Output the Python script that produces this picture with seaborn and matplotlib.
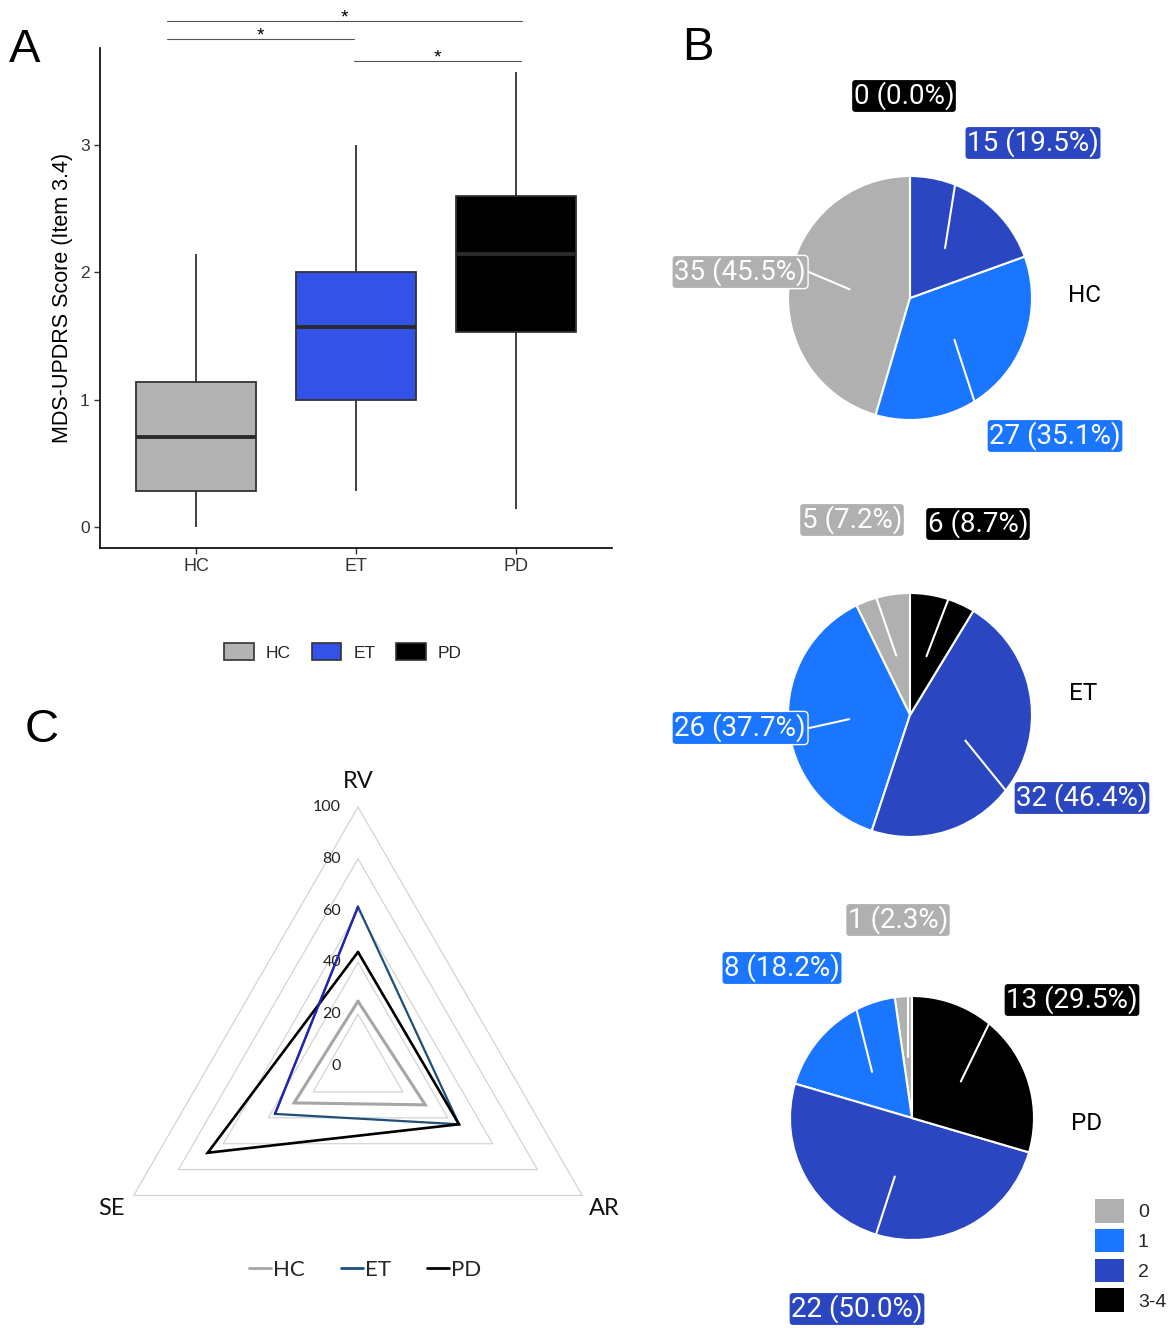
import numpy as np
import pandas as pd
import matplotlib.pyplot as plt
import seaborn as sns
from matplotlib.patches import Patch
from matplotlib.lines import Line2D

# panel A - five-number summaries (min, q1, median, q3, max)
groups = ['HC', 'ET', 'PD']
hc_score = [0.0, 0.28, 0.71, 1.14, 2.14]
et_score = [0.28, 1.0, 1.57, 2.0, 3.0]
pd_score = [0.14, 1.53, 2.14, 2.6, 3.57]
box_colors = ['#b3b3b3', '#3352e8', '#000000']

# panel B - patients per item 3.4 score
score_cats = ['0', '1', '2', '3-4']
hc_counts = [35, 27, 15, 0]
et_counts = [5, 26, 32, 6]
pd_counts = [1, 8, 22, 13]
pie_colors = ['#b0b0b0', '#1a75ff', '#2a46c0', '#000000']

# panel C - radar values
radar_axes = ['RV', 'AR', 'SE']
hc_radar = [25, 30, 28.5]
et_radar = [61.5, 45, 37]
pd_radar = [44, 45, 67]
radar_ticks = [0, 20, 40, 60, 80, 100]
radar_colors = ['#a6a6a6', '#1f4e79', '#000000']

sns.set_theme(style='ticks')
plt.rcParams['font.family'] = ['Liberation Sans', 'DejaVu Sans']

W, H = 1173, 1328
fig = plt.figure(figsize=(W / 100, H / 100), dpi=100)


def box(x, y, w, h):
    # pixel box (top-left origin) -> figure fraction
    return [x / W, 1 - (y + h) / H, w / W, h / H]


# ---------------- A: boxplot ----------------
axA = fig.add_axes(box(100, 48, 512, 500))
df = pd.DataFrame({'group': np.repeat(groups, len(hc_score)),
                   'score': hc_score + et_score + pd_score})
sns.boxplot(data=df, x='group', y='score', hue='group', palette=box_colors,
            saturation=1, width=0.75, whis=(0, 100), showcaps=False, linewidth=1.3,
            linecolor='#333333', legend=False, ax=axA,
            medianprops={'color': '#2b2b2b', 'linewidth': 2.8})
axA.set_xlim(-0.6, 2.6)
axA.set_ylim(-0.165, 3.76)
axA.set_yticks([0, 1, 2, 3])
axA.set_xlabel('')
axA.set_ylabel('MDS-UPDRS Score (Item 3.4)', fontsize=15.5, color='black', labelpad=5)
axA.tick_params(axis='x', labelsize=13, colors='#333333', length=4, width=1)
axA.tick_params(axis='y', labelsize=12.5, colors='#333333', length=4, width=1)
sns.despine(ax=axA)
for sp in ['left', 'bottom']:
    axA.spines[sp].set_color('black')
    axA.spines[sp].set_linewidth(1.2)

sig_x = [(-0.18, 2.04), (-0.18, 0.99), (0.99, 2.03)]
sig_y = [3.97, 3.83, 3.66]
for (x0, x1), yv in zip(sig_x, sig_y):
    axA.plot([x0, x1], [yv, yv], color='#555555', lw=0.8, clip_on=False)
    axA.text((x0 + x1) / 2, yv - 0.01, '*', ha='center', va='baseline',
             fontsize=14, color='black', clip_on=False)

handlesA = [Patch(facecolor=c, edgecolor='#333333', linewidth=1.2) for c in box_colors]
fig.legend(handlesA, groups, loc='center', bbox_to_anchor=(343 / W, 1 - 652 / H),
           ncol=3, frameon=False, fontsize=12.5, handlelength=1.7, handleheight=1.15,
           handletextpad=0.7, columnspacing=1.2)

# ---------------- C: radar ----------------
axC = fig.add_axes(box(58, 740, 600, 500))
ppu = 2.59
cxp, cyp = 358, 1066
axC.set_xlim(-(cxp - 58) / ppu, (658 - cxp) / ppu)
axC.set_ylim(-(1240 - cyp) / ppu, (cyp - 740) / ppu)
axC.axis('off')
ang = np.deg2rad([90, -30, 210])


def tri(vals):
    v = np.append(vals, vals[0])
    a = np.append(ang, ang[0])
    return v * np.cos(a), v * np.sin(a)


for t in radar_ticks[1:]:
    gx, gy = tri([t] * 3)
    axC.plot(gx, gy, color='#d4d4d4', lw=0.9, zorder=1)

radar_font = ['Lato', 'DejaVu Sans']
for t in radar_ticks:
    axC.text(-6.5, t, str(t), ha='right', va='center', fontsize=11.5,
             family=radar_font, color='#222222', zorder=2)

for vals, col, lw in zip([hc_radar, et_radar, pd_radar], radar_colors, [2.2, 1.6, 1.9]):
    px_, py_ = tri(vals)
    axC.plot(px_, py_, color=col, lw=lw, zorder=3, solid_joinstyle='miter')
# RV-SE edge of the ET trace is drawn in a brighter blue
ex, ey = tri(et_radar)
axC.plot([ex[0], ex[2]], [ey[0], ey[2]], color='#2323b5', lw=1.6, zorder=3)

for name, a in zip(radar_axes, ang):
    axC.text(110 * np.cos(a), 110 * np.sin(a), name, ha='center', va='center',
             fontsize=17, family=radar_font, color='#111111')

handlesC = [Line2D([0], [0], color=c, lw=2) for c in radar_colors]
fig.legend(handlesC, groups, loc='center', bbox_to_anchor=(365 / W, 1 - 1270 / H),
           ncol=3, frameon=False, prop={'family': radar_font, 'size': 16},
           handlelength=1.0, handletextpad=0.1, columnspacing=1.6)

# ---------------- B: pies ----------------
axB = fig.add_axes([0, 0, 1, 1])
axB.set_facecolor('none')
pie_centers = [(910, 298), (910, 715), (912, 1118)]
pie_radius = 122
label_pos = [
    [(740, 272), (1055, 436), (1033, 143), (904, 96)],
    [(852, 520), (740, 728), (1082, 798), (978, 524)],
    [(898, 920), (782, 968), (857, 1309), (1072, 1000)],
]
# direction (deg) of each white leader line, from half radius out to the rim
leader_dir = [
    [157, -72, 81, None],
    [109, 192.5, -51, 69],
    [90, 104, -108, 64],
]
name_pos = [(1085, 295), (1083, 693), (1087, 1123)]
pie_font = ['Roboto', 'DejaVu Sans']

for counts, (cx, cy), lpos, ldir, gname, npos in zip(
        [hc_counts, et_counts, pd_counts], pie_centers, label_pos, leader_dir, groups, name_pos):
    cyd = H - cy
    axB.pie(counts, colors=pie_colors, startangle=90, counterclock=True,
            radius=pie_radius, center=(cx, cyd),
            wedgeprops={'edgecolor': 'white', 'linewidth': 1.5})
    total = sum(counts)
    before = 0
    for v, col, (lx, ly), dd in zip(counts, pie_colors, lpos, ldir):
        if v > 0 and dd is not None:
            mid = np.deg2rad(90 + 360 * (before + v / 2) / total)
            q = np.array([0.5 * pie_radius * np.cos(mid), 0.5 * pie_radius * np.sin(mid)])
            d = np.array([np.cos(np.deg2rad(dd)), np.sin(np.deg2rad(dd))])
            b = q @ d
            t_end = -b + np.sqrt(b * b - (q @ q - pie_radius ** 2))
            p0 = q + np.array([cx, cyd])
            p1 = p0 + t_end * d
            axB.plot([p0[0], p1[0]], [p0[1], p1[1]], color='white', lw=1.5, zorder=5)
        before += v
        axB.text(lx, H - ly, f'{v} ({100 * v / total:.1f}%)', ha='center', va='center',
                 fontsize=20, color='white', family=pie_font, zorder=6,
                 bbox=dict(boxstyle='round,pad=0.08,rounding_size=0.15',
                           fc=col, ec='white', lw=1))
    axB.text(npos[0], H - npos[1], gname, ha='center', va='center',
             fontsize=17.5, family=pie_font, color='black')

handlesB = [Patch(facecolor=c, edgecolor='none') for c in pie_colors]
axB.legend(handlesB, score_cats, loc='upper left', bbox_to_anchor=(1095 / W, 1 - 1199 / H),
           bbox_transform=fig.transFigure, frameon=False, fontsize=14,
           handlelength=1.5, handleheight=1.5, labelspacing=0.31, handletextpad=0.7,
           borderpad=0, borderaxespad=0)
axB.set_xlim(0, W)
axB.set_ylim(0, H)
axB.axis('off')

# panel letters
for letter, (lx, ly) in zip(['A', 'B', 'C'], [(25, 50), (698, 48), (42, 730)]):
    fig.text(lx / W, 1 - ly / H, letter, ha='center', va='center', fontsize=34, color='black')

fig.savefig('out.png', dpi=100)
